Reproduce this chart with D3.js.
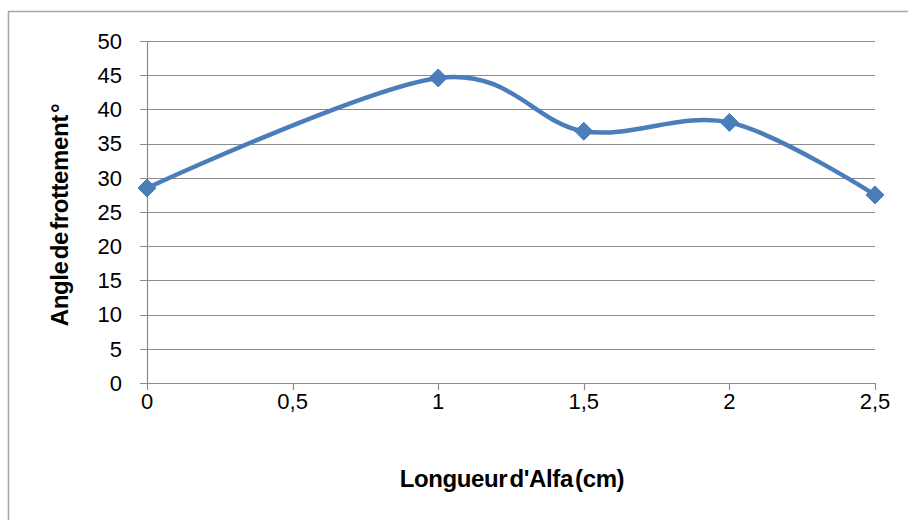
<!DOCTYPE html>
<html><head><meta charset="utf-8">
<script src="https://cdn.jsdelivr.net/npm/d3@7"></script>
<style>body{margin:0;background:#fff;} svg{display:block;}</style>
</head><body>
<svg id="c" width="908" height="520"></svg>
<script>
const xValues = [0, 0.5, 1, 1.5, 2, 2.5];
const pointX = [0, 1, 1.5, 2, 2.5];
const pointY = [28.5, 44.6, 36.8, 38.1, 27.5];
const xTickLabels = ["0", "0,5", "1", "1,5", "2", "2,5"];
const yTicks = [0, 5, 10, 15, 20, 25, 30, 35, 40, 45, 50];
const xTitle = "Longueur d'Alfa (cm)";
const yTitle = "Angle de frottement °";

const svg = d3.select("#c");
const font = "'Liberation Sans', Arial, sans-serif";
// outer frame
svg.append("path").attr("d", "M8.5,520 V11.5 H908").attr("fill", "none").attr("stroke", "#a6a6a6").attr("stroke-width", 1.5);

const x = d3.scaleLinear().domain([0, 2.5]).range([147, 875]);
const y = d3.scaleLinear().domain([0, 50]).range([383, 41]);

// gridlines
svg.append("g").selectAll("line").data(yTicks).join("line")
  .attr("x1", 140).attr("x2", 875)
  .attr("y1", d => Math.round(y(d)) + 0.5).attr("y2", d => Math.round(y(d)) + 0.5)
  .attr("stroke", "#8c8c8c").attr("stroke-width", 1.2);
// y axis line
svg.append("line").attr("x1", 147.5).attr("x2", 147.5).attr("y1", 41).attr("y2", 390)
  .attr("stroke", "#8c8c8c").attr("stroke-width", 1.2);
// x ticks
svg.append("g").selectAll("line").data(xValues.slice(1)).join("line")
  .attr("x1", d => Math.round(x(d)) + 0.5).attr("x2", d => Math.round(x(d)) + 0.5)
  .attr("y1", 383).attr("y2", 390).attr("stroke", "#8c8c8c").attr("stroke-width", 1.2);

// y labels
svg.append("g").selectAll("text").data(yTicks).join("text")
  .attr("x", 122).attr("y", d => y(d)).attr("dy", "0.35em")
  .attr("text-anchor", "end").attr("font-family", font).attr("font-size", 22)
  .attr("fill", "#000").text(d => d);
// x labels
svg.append("g").selectAll("text").data(xValues).join("text")
  .attr("x", d => x(d)).attr("y", 409)
  .attr("text-anchor", "middle").attr("font-family", font).attr("font-size", 22)
  .attr("fill", "#000").text((d, i) => xTickLabels[i]);

// titles
svg.append("text").attr("x", 512).attr("y", 487).attr("text-anchor", "middle")
  .attr("font-family", font).attr("font-size", 24).attr("font-weight", "bold")
  .attr("word-spacing", -4).attr("letter-spacing", -0.4).text(xTitle);
svg.append("text").attr("transform", "translate(68,215) rotate(-90)").attr("text-anchor", "middle")
  .attr("font-family", font).attr("font-size", 24).attr("font-weight", "bold")
  .attr("word-spacing", -4).attr("letter-spacing", -0.4).text(yTitle);

// line
const pts = pointX.map((d, i) => [d, pointY[i]]);
const line = d3.line().x(d => x(d[0])).y(d => y(d[1])).curve(d3.curveCatmullRom.alpha(0));
svg.append("path").datum(pts).attr("d", line).attr("fill", "none")
  .attr("stroke", "#4a7ebb").attr("stroke-width", 4.5).attr("stroke-linejoin", "round");
// markers
svg.append("g").selectAll("path").data(pts).join("path")
  .attr("transform", d => `translate(${x(d[0])},${y(d[1])})`)
  .attr("d", "M0,-9 L9,0 L0,9 L-9,0 Z").attr("fill", "#4a7ebb").attr("stroke", "#4a7ebb").attr("stroke-width", 1);
</script>
</body></html>
